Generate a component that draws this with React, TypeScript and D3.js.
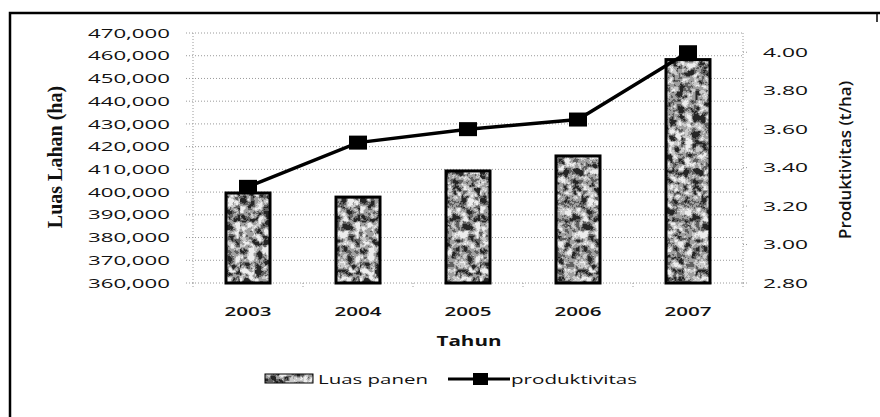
import React from 'react';
import * as d3 from 'd3';

const years = ['2003', '2004', '2005', '2006', '2007'];
const luasPanen = [399600, 397800, 409300, 415900, 458300];
const produktivitas = [3.3, 3.53, 3.6, 3.65, 4.0];
const leftTicks = [360000, 370000, 380000, 390000, 400000, 410000, 420000, 430000, 440000, 450000, 460000, 470000];
const rightTicks = [2.8, 3.0, 3.2, 3.4, 3.6, 3.8, 4.0];
const leftTitle = 'Luas Lahan (ha)';
const rightTitle = 'Produktivitas (t/ha)';
const xTitle = 'Tahun';
const legendBar = 'Luas panen';
const legendLine = 'produktivitas';

const W = 880, H = 417;
const PL = 193, PR = 743, PT = 33, PB = 283;
const FONT = '"Open Sans", "DejaVu Sans", sans-serif';

export default function App() {
  const x = d3.scaleBand<string>().domain(years).range([PL, PR]).paddingInner(0.6).paddingOuter(0.3);
  const yL = d3.scaleLinear().domain([360000, 470000]).range([PB, PT]);
  const yR = d3.scaleLinear().domain([2.8, 4.1]).range([PB, PT]);
  const cx = (d: string) => (x(d) as number) + x.bandwidth() / 2;
  const fmtL = d3.format(',');
  const fmtR = d3.format('.2f');
  const line = d3.line<number>().x((_, i) => cx(years[i])).y((v) => yR(v));
  const step = x.step();
  const grid = { stroke: '#9a9a9a', strokeWidth: 1, strokeDasharray: '1,2' };

  return (
    <svg width={W} height={H} style={{ position: 'absolute', left: 0, top: 0, background: '#fff' }}>
      <defs>
        <filter id="noise" x="0" y="0" width="100%" height="100%" filterUnits="objectBoundingBox">
          <feTurbulence type="fractalNoise" baseFrequency="0.13" numOctaves="4" seed="11" />
          <feColorMatrix type="matrix" values="0.33 0.33 0.33 0 0 0.33 0.33 0.33 0 0 0.33 0.33 0.33 0 0 0 0 0 0 1" />
          <feComponentTransfer>
            <feFuncR type="linear" slope="3.6" intercept="-1.3" />
            <feFuncG type="linear" slope="3.6" intercept="-1.3" />
            <feFuncB type="linear" slope="3.6" intercept="-1.3" />
            <feFuncA type="table" tableValues="1 1" />
          </feComponentTransfer>
          <feComponentTransfer>
            <feFuncR type="discrete" tableValues="0.02 0.12 0.35 0.6 0.85" />
            <feFuncG type="discrete" tableValues="0.02 0.12 0.35 0.6 0.85" />
            <feFuncB type="discrete" tableValues="0.02 0.12 0.35 0.6 0.85" />
          </feComponentTransfer>
        </filter>
        <pattern id="granite" patternUnits="userSpaceOnUse" x="0" y="0" width="120" height="300">
          <rect width="120" height="300" fill="#888" filter="url(#noise)" />
        </pattern>
      </defs>

      {/* outer frame */}
      <path d={`M10,${H} V13 H${W}`} fill="none" stroke="#000" strokeWidth={2.5} />
      <line x1={877} x2={877} y1={13} y2={22} stroke="#000" strokeWidth={1.5} />

      {/* gridlines */}
      {leftTicks.map((t) => (
        <line key={t} x1={PL - 7} x2={PR} y1={yL(t)} y2={yL(t)} {...grid} />
      ))}
      <line x1={PL} x2={PL} y1={PT} y2={PB} {...grid} />
      <line x1={PR} x2={PR} y1={PT} y2={PB} {...grid} />
      {rightTicks.map((t) => (
        <line key={t} x1={PR} x2={PR + 4} y1={yR(t)} y2={yR(t)} {...grid} />
      ))}
      {d3.range(years.length + 1).map((i) => (
        <line key={i} x1={PL + i * step} x2={PL + i * step} y1={PB} y2={PB + 5} {...grid} />
      ))}

      {/* bars */}
      {years.map((d, i) => (
        <rect
          key={d}
          x={x(d)}
          y={yL(luasPanen[i])}
          width={x.bandwidth()}
          height={PB - yL(luasPanen[i])}
          fill="url(#granite)"
          stroke="#000"
          strokeWidth={3}
        />
      ))}

      {/* line */}
      <path d={line(produktivitas) || ''} fill="none" stroke="#000" strokeWidth={3.5} />
      {produktivitas.map((v, i) => (
        <rect key={i} x={cx(years[i]) - 9} y={yR(v) - 7} width={18} height={14} fill="#000" />
      ))}

      {/* left ticks */}
      {leftTicks.map((t) => (
        <text key={t} x={170} y={yL(t)} dy="0.36em" textAnchor="end" fontFamily={FONT} fontSize={13}
          fontWeight={500} fill="#111" textLength={82} lengthAdjust="spacingAndGlyphs">
          {fmtL(t)}
        </text>
      ))}
      {/* right ticks */}
      {rightTicks.map((t) => (
        <text key={t} x={763} y={yR(t)} dy="0.36em" textAnchor="start" fontFamily={FONT} fontSize={13}
          fontWeight={500} fill="#111" textLength={45} lengthAdjust="spacingAndGlyphs">
          {fmtR(t)}
        </text>
      ))}
      {/* x ticks */}
      {years.map((d) => (
        <text key={d} x={cx(d)} y={311} dy="0.36em" textAnchor="middle" fontFamily={FONT} fontSize={13}
          fontWeight={600} fill="#111" textLength={47} lengthAdjust="spacingAndGlyphs">
          {d}
        </text>
      ))}

      {/* titles */}
      <text x={469} y={341} dy="0.36em" textAnchor="middle" fontFamily={FONT} fontSize={14} fontWeight={700}
        fill="#111" textLength={65} lengthAdjust="spacingAndGlyphs">
        {xTitle}
      </text>
      <text transform="translate(55,157) rotate(-90)" textAnchor="middle" dy="0.35em"
        fontFamily='"Liberation Serif", "Times New Roman", serif' fontSize={20} fontWeight={700} fill="#111">
        {leftTitle}
      </text>
      <text transform="translate(845,160) rotate(-90)" textAnchor="middle" dy="0.35em" fontFamily={FONT}
        fontSize={17} fontWeight={600} fill="#111" textLength={158} lengthAdjust="spacingAndGlyphs">
        {rightTitle}
      </text>

      {/* legend */}
      <rect x={265} y={374} width={48} height={9} fill="url(#granite)" stroke="#000" strokeWidth={1} />
      <text x={318} y={379} dy="0.36em" fontFamily={FONT} fontSize={13} fontWeight={500} fill="#111"
        textLength={110} lengthAdjust="spacingAndGlyphs">
        {legendBar}
      </text>
      <line x1={448} x2={510} y1={379} y2={379} stroke="#000" strokeWidth={3} />
      <rect x={473} y={373} width={15} height={12} fill="#000" />
      <text x={511} y={379} dy="0.36em" fontFamily={FONT} fontSize={13} fontWeight={500} fill="#111"
        textLength={126} lengthAdjust="spacingAndGlyphs">
        {legendLine}
      </text>
    </svg>
  );
}
